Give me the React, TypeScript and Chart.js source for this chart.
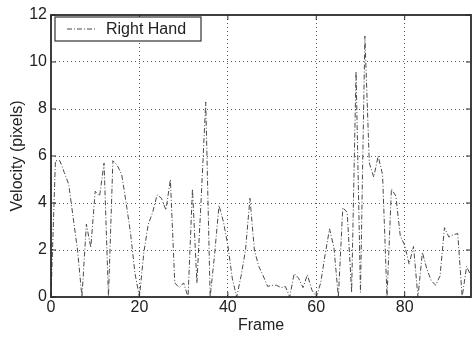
import React, { useEffect, useRef } from "react";
import { Chart, registerables } from "chart.js";

Chart.register(...registerables);

const seriesLabel = "Right Hand";
const xTitle = "Frame";
const yTitle = "Velocity (pixels)";
const xTickValues = [0, 20, 40, 60, 80];
const yTickValues = [0, 2, 4, 6, 8, 10, 12];
const frames = Array.from({ length: 96 }, (_, i) => i);
const velocity = [
  0, 5.8, 5.8, 5.3, 4.8, 3.4, 2.0, 0, 3.1, 2.1,
  4.5, 4.3, 5.7, 0, 5.8, 5.6, 5.2, 4.0, 2.7, 1.0,
  0, 1.9, 3.1, 3.6, 4.35, 4.2, 3.7, 5.0, 0.6, 0.4,
  0.6, 0, 4.6, 0.6, 4.3, 8.3, 0, 1.8, 3.9, 3.2,
  2.2, 0.8, 0, 0.9, 2.0, 4.2, 2.0, 1.3, 0.9, 0.45,
  0.5, 0.5, 0.4, 0.45, 0, 1.0, 0.8, 0.4, 0.95, 0.3,
  0, 0.6, 1.8, 2.9, 2.1, 0, 3.8, 3.6, 0.2, 9.6,
  0.2, 11.1, 5.7, 5.1, 6.0, 5.2, 0, 4.6, 4.3, 2.6,
  2.2, 1.4, 2.15, 0, 1.9, 1.2, 0.7, 0.5, 0.9, 2.95,
  2.55, 2.65, 2.7, 0, 1.3, 0.9,
];

const FONT = "'Liberation Sans', Arial, Helvetica, sans-serif";
const LINE_COLOR = "#4a4a4a";
const LINE_DASH = [5, 2, 1, 2];

const framePlugin = {
  id: "matlabFrame",
  afterDraw(chart: any) {
    const { ctx, chartArea } = chart;
    const { left, right, top, bottom } = chartArea;
    const xs = chart.scales.x;
    const ys = chart.scales.y;
    ctx.save();
    ctx.strokeStyle = "#2a2a2a";
    ctx.lineWidth = 1;
    // inner ticks
    const tl = 5;
    xTickValues.forEach((v) => {
      const px = xs.getPixelForValue(v);
      ctx.beginPath();
      ctx.moveTo(px, bottom);
      ctx.lineTo(px, bottom - tl);
      ctx.moveTo(px, top);
      ctx.lineTo(px, top + tl);
      ctx.stroke();
    });
    yTickValues.forEach((v) => {
      const py = ys.getPixelForValue(v);
      ctx.beginPath();
      ctx.moveTo(left, py);
      ctx.lineTo(left + tl, py);
      ctx.moveTo(right, py);
      ctx.lineTo(right - tl, py);
      ctx.stroke();
    });
    // box
    ctx.lineWidth = 1.8;
    ctx.strokeRect(left, top, right - left, bottom - top);

    // legend
    const ds = chart.data.datasets[0];
    const bx = left + 4;
    const by = top + 2;
    const bw = 146;
    const bh = 24;
    ctx.fillStyle = "#ffffff";
    ctx.fillRect(bx, by, bw, bh);
    ctx.lineWidth = 1.2;
    ctx.strokeStyle = "#333";
    ctx.strokeRect(bx, by, bw, bh);
    ctx.beginPath();
    ctx.setLineDash(LINE_DASH);
    ctx.strokeStyle = LINE_COLOR;
    ctx.lineWidth = 1;
    ctx.moveTo(bx + 12, by + 12);
    ctx.lineTo(bx + 40, by + 12);
    ctx.stroke();
    ctx.setLineDash([]);
    ctx.fillStyle = "#222";
    ctx.font = `16px ${FONT}`;
    ctx.textBaseline = "middle";
    ctx.textAlign = "left";
    ctx.fillText(ds.label, bx + 51, by + 12.5);
    ctx.restore();
  },
};

export default function App() {
  const ref = useRef<HTMLCanvasElement | null>(null);

  useEffect(() => {
    document.body.style.margin = "0";
    const canvas = ref.current;
    if (!canvas) return;
    const chart = new Chart(canvas, {
      type: "line",
      data: {
        datasets: [
          {
            label: seriesLabel,
            data: frames.map((f, i) => ({ x: f, y: velocity[i] })),
            borderColor: LINE_COLOR,
            borderWidth: 1,
            borderDash: LINE_DASH,
            pointRadius: 0,
            tension: 0,
            fill: false,
          },
        ],
      },
      options: {
        animation: false,
        responsive: false,
        maintainAspectRatio: false,
        devicePixelRatio: 1,
        layout: { padding: { top: 15, right: 1, left: 0, bottom: 0 } },
        plugins: {
          legend: { display: false },
          tooltip: { enabled: false },
        },
        scales: {
          x: {
            type: "linear",
            min: 0,
            max: 95,
            afterBuildTicks: (scale: any) => {
              scale.ticks = xTickValues.map((v) => ({ value: v }));
            },
            afterFit: (scale: any) => {
              scale.height = 41;
            },
            ticks: {
              color: "#222",
              font: { family: FONT, size: 16 },
              padding: 1,
              maxRotation: 0,
              autoSkip: false,
            },
            grid: {
              drawTicks: false,
              color: (c: any) =>
                c.tick && (c.tick.value === 0 || c.tick.value === 95) ? "rgba(0,0,0,0)" : "#555",
              lineWidth: 1,
            },
            border: { display: false, dash: [1, 3] },
            title: {
              display: true,
              text: xTitle,
              color: "#222",
              font: { family: FONT, size: 16 },
              padding: { top: 0, bottom: 3 },
            },
          },
          y: {
            type: "linear",
            min: 0,
            max: 12,
            afterBuildTicks: (scale: any) => {
              scale.ticks = yTickValues.map((v) => ({ value: v }));
            },
            afterFit: (scale: any) => {
              scale.width = 51;
            },
            ticks: {
              color: "#222",
              font: { family: FONT, size: 16 },
              padding: 4,
              autoSkip: false,
            },
            grid: {
              drawTicks: false,
              color: (c: any) =>
                c.tick && (c.tick.value === 0 || c.tick.value === 12) ? "rgba(0,0,0,0)" : "#555",
              lineWidth: 1,
            },
            border: { display: false, dash: [1, 3] },
            title: {
              display: true,
              text: yTitle,
              color: "#222",
              font: { family: FONT, size: 16 },
              padding: { top: 8, bottom: 0 },
            },
          },
        },
      },
      plugins: [framePlugin],
    });
    return () => chart.destroy();
  }, []);

  return (
    <div style={{ position: "absolute", left: 0, top: 0, width: 472, height: 338, background: "#fff" }}>
      <canvas ref={ref} width={472} height={338} style={{ width: 472, height: 338, display: "block" }} />
    </div>
  );
}
